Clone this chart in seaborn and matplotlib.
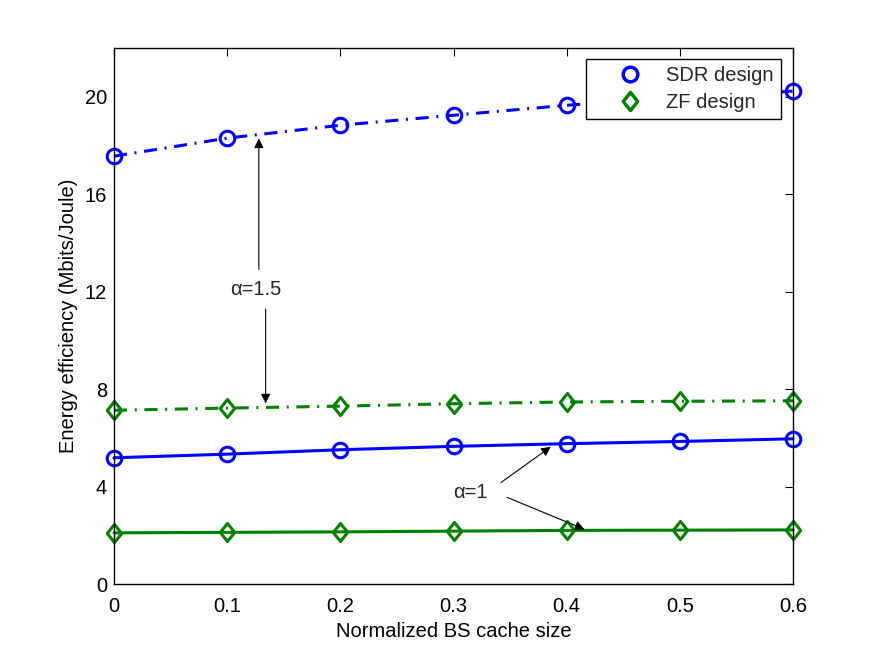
import matplotlib
matplotlib.use("Agg")
import matplotlib.pyplot as plt
from matplotlib.path import Path
import seaborn as sns
import numpy as np
import pandas as pd

cache_size = [0, 0.1, 0.2, 0.3, 0.4, 0.5, 0.6]
sdr_a15 = [17.56, 18.3, 18.83, 19.24, 19.65, 19.95, 20.23]
zf_a15 = [7.13, 7.22, 7.3, 7.4, 7.47, 7.5, 7.52]
sdr_a1 = [5.18, 5.33, 5.51, 5.65, 5.76, 5.85, 5.96]
zf_a1 = [2.1, 2.12, 2.14, 2.17, 2.2, 2.21, 2.22]

xticks = [0, 0.1, 0.2, 0.3, 0.4, 0.5, 0.6]
yticks = [0, 4, 8, 12, 16, 20]

sns.set_theme(style="white")
plt.rcParams['font.family'] = ['Liberation Sans', 'DejaVu Sans']

fig = plt.figure(figsize=(8.73, 6.57), dpi=100)
ax = fig.add_axes([114/873, 1-584/657, (793-114)/873, (584-48)/657])

blue = "#0000ff"
green = "#007f00"
diamond = Path([(0, 1), (0.8, 0), (0, -1), (-0.8, 0), (0, 1)],
               [Path.MOVETO, Path.LINETO, Path.LINETO, Path.LINETO, Path.CLOSEPOLY])
dashdot = (0, (4.3, 2.5, 0.65, 2.5))

series = [
    (sdr_a15, blue, dashdot, "o"),
    (zf_a15, green, dashdot, diamond),
    (sdr_a1, blue, "-", "o"),
    (zf_a1, green, "-", diamond),
]
for vals, col, ls, mk in series:
    df = pd.DataFrame({"x": cache_size, "y": vals})
    sns.lineplot(data=df, x="x", y="y", ax=ax, color=col, linewidth=2.2,
                 linestyle=ls, marker=mk, markersize=10.5 if mk == "o" else 13,
                 markerfacecolor="none", markeredgecolor=col, markeredgewidth=2.2,
                 clip_on=False)

# legend proxies (markers only)
h1, = ax.plot([], [], linestyle="none", marker="o", markersize=10.5, markerfacecolor="none",
              markeredgecolor=blue, markeredgewidth=2.5, label="SDR design")
h2, = ax.plot([], [], linestyle="none", marker=diamond, markersize=13, markerfacecolor="none",
              markeredgecolor=green, markeredgewidth=2.5, label="ZF design")
leg = ax.legend(handles=[h1, h2], loc="upper right", bbox_to_anchor=(0.9823, 0.979),
                fontsize=14.5, frameon=True, fancybox=False, edgecolor="black",
                framealpha=1, borderpad=0.35, handletextpad=-0.05, labelspacing=0.4,
                borderaxespad=0.0, markerfirst=True, handlelength=3.7)
leg.get_frame().set_linewidth(1.0)

ax.set_xlim(0, 0.6)
ax.set_ylim(0, 22)
ax.set_xticks(xticks)
ax.set_xticklabels([f"{v:g}" for v in xticks])
ax.set_yticks(yticks)
ax.set_yticklabels([str(v) for v in yticks])
ax.tick_params(axis="both", direction="in", length=6, width=0.8, top=True, right=True,
               labelsize=14.5, colors="black")
ax.tick_params(axis="x", pad=9)
ax.tick_params(axis="y", pad=5)
for sp in ax.spines.values():
    sp.set_color("black")
    sp.set_linewidth(1.0)
ax.set_xlabel("Normalized BS cache size", fontsize=14.5, color="black", labelpad=5)
ax.set_ylabel("Energy efficiency (Mbits/Joule)", fontsize=14.5, color="black", labelpad=5)

# annotations
ax.text(0.1256, 12.1, "α=1.5", fontsize=14.5, ha="center", va="center")
ax.annotate("", xy=(0.128, 18.4), xytext=(0.128, 12.8),
            arrowprops=dict(arrowstyle="-|>", color="black", lw=0.8, mutation_scale=14))
ax.annotate("", xy=(0.134, 7.3), xytext=(0.134, 11.4),
            arrowprops=dict(arrowstyle="-|>", color="black", lw=0.8, mutation_scale=14))
ax.text(0.315, 3.76, "α=1", fontsize=14.5, ha="center", va="center")
ax.annotate("", xy=(0.388, 5.7), xytext=(0.340, 4.1),
            arrowprops=dict(arrowstyle="-|>", color="black", lw=0.8, mutation_scale=14))
ax.annotate("", xy=(0.418, 2.2), xytext=(0.345, 3.6),
            arrowprops=dict(arrowstyle="-|>", color="black", lw=0.8, mutation_scale=14))

fig.savefig("out.png", dpi=100, facecolor="white")
